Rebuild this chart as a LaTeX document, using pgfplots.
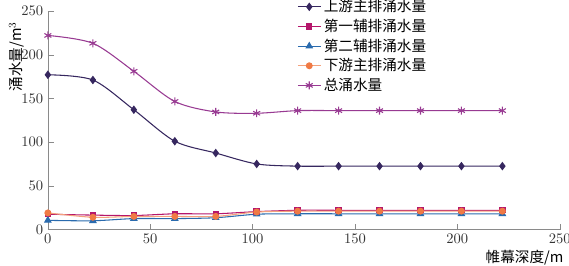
\documentclass[border=0pt]{standalone}
\usepackage{pgfplots}
\pgfplotsset{compat=1.18}
\usepackage{fontspec}
\newfontfamily\cjk{Noto Sans CJK SC}
\definecolor{cup}{HTML}{36275F}
\definecolor{cfirst}{HTML}{B5166B}
\definecolor{csecond}{HTML}{2A6BAE}
\definecolor{cdown}{HTML}{F07A45}
\definecolor{ctotal}{HTML}{983A92}
\definecolor{caxis}{HTML}{8A8A8A}
\begin{document}
\begin{tikzpicture}
\begin{axis}[
  name=ax,
  scale only axis,
  width=385pt, height=164.4pt,
  xmin=0, xmax=250, ymin=0, ymax=250,
  axis lines=left,
  axis line style={caxis, -},
  tick align=inside,
  tick style={caxis},
  xtick={0,50,100,150,200,250},
  ytick={0,50,100,150,200,250},
  tick label style={font=\fontsize{10.5}{12}\selectfont, text=black!80},
  ylabel={\cjk 涌水量/m$^3$},
  ylabel style={font=\fontsize{11}{13}\selectfont, inner sep=0pt, at={(rel axis cs:0,0.79)}, anchor=south, yshift=18pt},
  xlabel={\cjk 帷幕深度/m},
  xlabel style={font=\fontsize{11}{13}\selectfont, inner sep=0pt, at={(rel axis cs:1,0)}, anchor=base east, yshift=-24.5pt, xshift=3pt},
  legend style={draw=none, fill=none, at={(rel axis cs:0.487,1.065)}, anchor=north west, font=\cjk\fontsize{11}{13}\selectfont, row sep=0pt, inner sep=0pt},
  legend cell align=left,
  every axis plot/.append style={line width=0.8pt, smooth, tension=0.5},
]
\addplot[color=cup, mark=diamond*, mark size=2.6pt, mark options={fill=cup}] coordinates {
(0,177)(22,171)(42,137)(62,101)(82,87.5)(102,75)(122,72.5)(142,72.5)(162,72.5)(182,72.5)(202,72.5)(222,72.5)};
\addlegendentry{上游主排涌水量}
\addplot[color=cfirst, mark=square*, mark size=2pt, mark options={fill=cfirst}] coordinates {
(0,17.5)(22,16.5)(42,16)(62,18)(82,18)(102,20.5)(122,22)(142,22)(162,22)(182,22)(202,22)(222,22)};
\addlegendentry{第一辅排涌水量}
\addplot[color=csecond, mark=triangle*, mark size=2.6pt, mark options={fill=csecond}] coordinates {
(0,10.5)(22,10)(42,12.5)(62,12.5)(82,13.5)(102,17.5)(122,18)(142,18)(162,18)(182,18)(202,18)(222,18)};
\addlegendentry{第二辅排涌水量}
\addplot[color=cdown!70, mark=*, mark size=2.2pt, mark options={fill=cdown, draw=cdown}] coordinates {
(0,19)(22,14)(42,15)(62,15)(82,15)(102,20)(122,21)(142,21)(162,21)(182,21)(202,21)(222,21)};
\addlegendentry{下游主排涌水量}
\addplot[color=ctotal, mark=asterisk, mark size=3pt, mark options={line width=0.8pt}] coordinates {
(0,222)(22,213)(42,181)(62,146.5)(82,134.5)(102,133)(122,136)(142,136)(162,136)(182,136)(202,136)(222,136)};
\addlegendentry{总涌水量}
\end{axis}
\pgfresetboundingbox
\path[use as bounding box] ([xshift=-36pt,yshift=-27pt]ax.south west) rectangle ([xshift=7pt,yshift=8.25pt]ax.north east);
\end{tikzpicture}
\end{document}
